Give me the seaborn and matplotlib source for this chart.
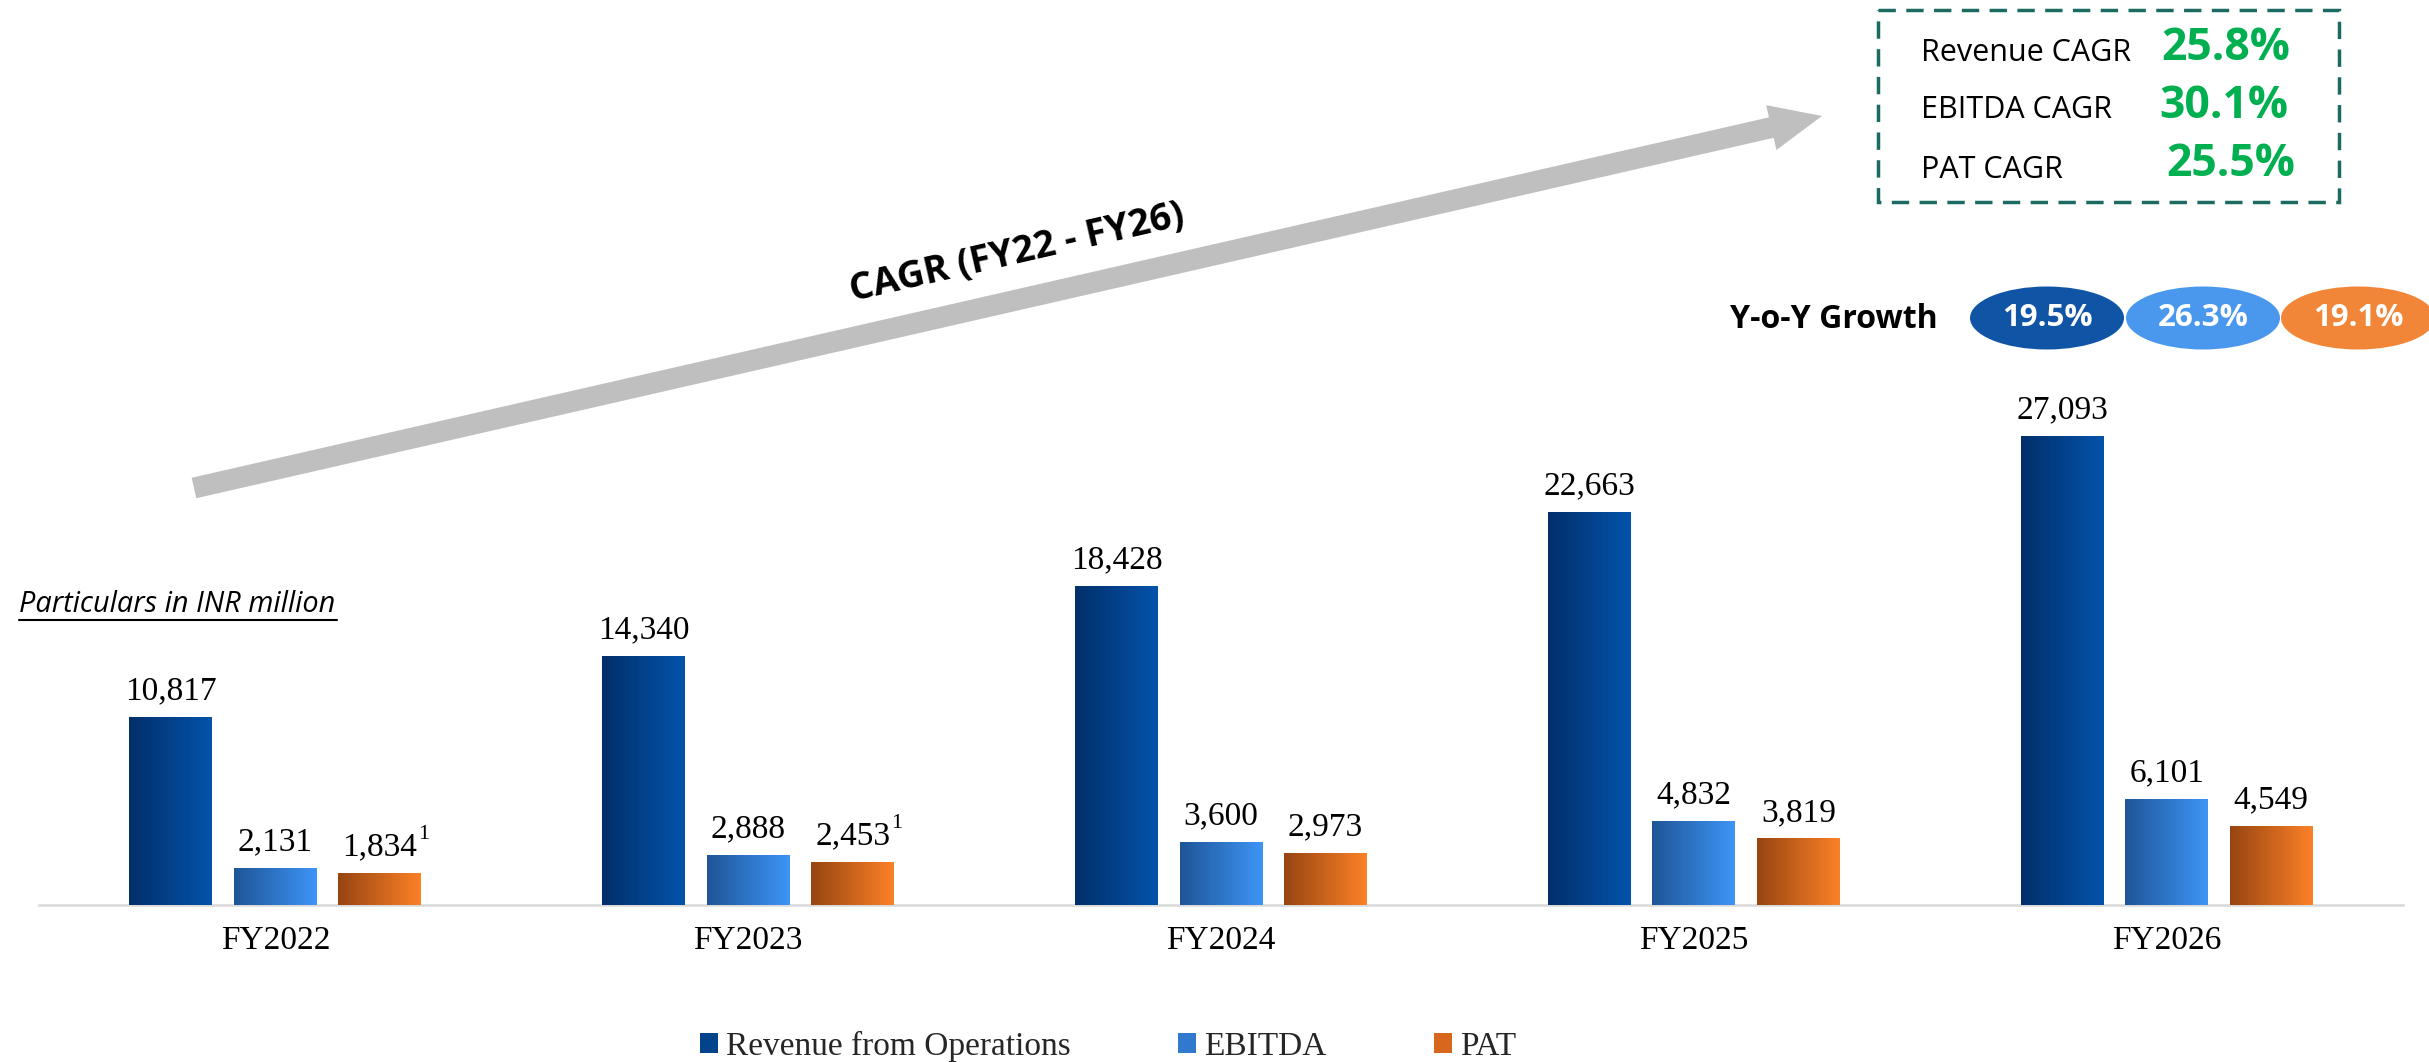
import numpy as np
import pandas as pd
import matplotlib
matplotlib.use('Agg')
import matplotlib.pyplot as plt
import seaborn as sns
from matplotlib.colors import LinearSegmentedColormap
from matplotlib.patches import FancyArrow, Ellipse, Rectangle, Patch

# data (INR million)
years = ['FY2022', 'FY2023', 'FY2024', 'FY2025', 'FY2026']
metrics = ['Revenue from Operations', 'EBITDA', 'PAT']
revenue = [10817, 14340, 18428, 22663, 27093]
ebitda = [2131, 2888, 3600, 4832, 6101]
pat = [1834, 2453, 2973, 3819, 4549]
pat_notes = ['1', '1', '', '', '']

cagr_labels = ['Revenue CAGR', 'EBITDA CAGR', 'PAT CAGR']
cagr_values = ['25.8%', '30.1%', '25.5%']
yoy_values = ['19.5%', '26.3%', '19.1%']

# gradient ends (left -> right) for each series
grads = [('#022f6a', '#0453ab'), ('#1f5597', '#3d95f6'), ('#974512', '#fc8127')]
solid = ['#03438c', '#3079cf', '#d8671e']
yoy_colors = ['#1055a5', '#4a98ee', '#f28638']

sns.set_theme(style='white')
plt.rcParams['font.family'] = ['Liberation Serif', 'DejaVu Sans']

W, H = 2429, 1062
fig = plt.figure(figsize=(W / 100, H / 100), dpi=100)
ax = fig.add_axes([39 / W, 157 / H, (2403 - 39) / W, 905 / H])

df = pd.DataFrame({
    'year': years * 3,
    'metric': [m for m in metrics for _ in years],
    'value': revenue + ebitda + pat,
})
sns.barplot(data=df, x='year', y='value', hue='metric', hue_order=metrics,
            palette=solid, saturation=1, width=0.663, gap=0.206,
            legend=False, ax=ax)

series = [revenue, ebitda, pat]
grad = np.linspace(0, 1, 256).reshape(1, -1)
for k, (cont, vals, (c0, c1)) in enumerate(zip(ax.containers, series, grads)):
    cmap = LinearSegmentedColormap.from_list('g%d' % k, [c0, c1])
    for i, (bar, v) in enumerate(zip(cont, vals)):
        x0, w, h = bar.get_x(), bar.get_width(), bar.get_height()
        ax.imshow(grad, cmap=cmap, extent=[x0, x0 + w, 0, h], aspect='auto',
                  zorder=3, interpolation='bicubic')
        bar.set_facecolor('none')
        bar.set_edgecolor('none')
        ax.annotate('{:,}'.format(v), (x0 + w / 2, h), xytext=(0, 8),
                    textcoords='offset points', ha='center', va='bottom',
                    fontsize=24, color='black')
        if k == 2 and pat_notes[i]:
            ax.annotate(pat_notes[i], (x0 + w / 2, h), xytext=(27.5, 21),
                        textcoords='offset points', ha='left', va='bottom',
                        fontsize=16, color='black')

ax.set_xlim(-0.5, 4.5)
ax.set_ylim(0, 52300)
ax.set_xlabel('')
ax.set_ylabel('')
ax.set_yticks([])
ax.tick_params(axis='x', length=0, pad=15, labelsize=24, labelcolor='black')
for s in ['left', 'top', 'right']:
    ax.spines[s].set_visible(False)
ax.spines['bottom'].set_color('#d9d9d9')
ax.spines['bottom'].set_linewidth(1.8)

# overlay in pixel coordinates for the slide decorations
ov = fig.add_axes([0, 0, 1, 1], zorder=5)
ov.set_xlim(0, W)
ov.set_ylim(H, 0)
ov.axis('off')
ov.patch.set_alpha(0)

ov.add_patch(FancyArrow(194, 488, 1628, -372, width=21, head_width=46,
                        head_length=52, length_includes_head=True,
                        facecolor='#bfbfbf', edgecolor='none'))
ov.text(1017, 253, 'CAGR (FY22 - FY26)', rotation=12.9, rotation_mode='anchor',
        ha='center', va='center', fontsize=27, fontweight='bold',
        family='Open Sans', color='black')

# CAGR box
ov.add_patch(Rectangle((1878, 10), 461, 192, fill=False, edgecolor='#1b6b63',
                       lw=2.5, linestyle=(0, (5, 3))))
for lab, val, ly, vy, vx in zip(cagr_labels, cagr_values, [53, 110, 170],
                                [48, 107, 165], [2161, 2159, 2166]):
    ov.text(1921, ly, lab, ha='left', va='center', fontsize=22,
            family='Open Sans', color='black')
    ov.text(vx, vy, val, ha='left', va='center', fontsize=32,
            family='Open Sans', fontweight='bold', color='#00b050')

# Y-o-Y growth pills
ov.text(1730, 320, 'Y-o-Y Growth', ha='left', va='center', fontsize=23,
        family='Open Sans', fontweight='bold', color='black')
for cx, val, col in zip([2047, 2203, 2358], yoy_values, yoy_colors):
    ov.add_patch(Ellipse((cx, 318), 154, 63, facecolor=col, edgecolor='none'))
    ov.text(cx, 318, val, ha='center', va='center', fontsize=22.5,
            family='Open Sans', fontweight='bold', color='white')

ov.text(19, 604, 'Particulars in INR million', ha='left', va='center',
        fontsize=20.8, style='italic', family='Open Sans', color='black')
ov.plot([19, 337], [620, 620], color='black', lw=1.5)

handles = [Patch(facecolor=c, edgecolor='none') for c in solid]
fig.legend(handles, metrics, loc='center', bbox_to_anchor=(1108 / W, 1 - 1046 / H),
           ncol=3, frameon=False, prop={'family': 'Liberation Serif', 'size': 24},
           handlelength=0.55, handleheight=0.55, handletextpad=0.25,
           columnspacing=3.2, borderaxespad=0)

fig.savefig('out.png', dpi=100)
